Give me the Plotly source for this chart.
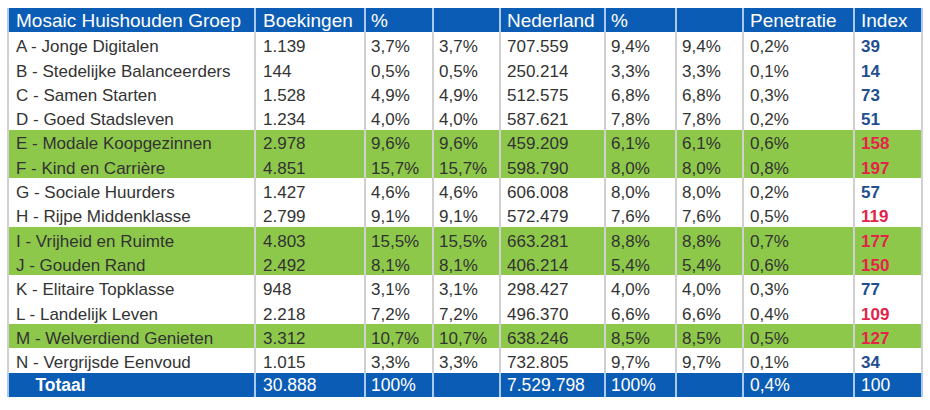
import plotly.graph_objects as go

W, H = 930, 410

# ---- data ----
groepen = [
    "A - Jonge Digitalen", "B - Stedelijke Balanceerders", "C - Samen Starten",
    "D - Goed Stadsleven", "E - Modale Koopgezinnen", "F - Kind en Carrière",
    "G - Sociale Huurders", "H - Rijpe Middenklasse", "I - Vrijheid en Ruimte",
    "J - Gouden Rand", "K - Elitaire Topklasse", "L - Landelijk Leven",
    "M - Welverdiend Genieten", "N - Vergrijsde Eenvoud",
]
boekingen = [1139, 144, 1528, 1234, 2978, 4851, 1427, 2799, 4803, 2492, 948, 2218, 3312, 1015]
boek_pct = [3.7, 0.5, 4.9, 4.0, 9.6, 15.7, 4.6, 9.1, 15.5, 8.1, 3.1, 7.2, 10.7, 3.3]
nederland = [707559, 250214, 512575, 587621, 459209, 598790, 606008, 572479, 663281,
             406214, 298427, 496370, 638246, 732805]
ned_pct = [9.4, 3.3, 6.8, 7.8, 6.1, 8.0, 8.0, 7.6, 8.8, 5.4, 4.0, 6.6, 8.5, 9.7]
penetratie = [0.2, 0.1, 0.3, 0.2, 0.6, 0.8, 0.2, 0.5, 0.7, 0.6, 0.3, 0.4, 0.5, 0.1]
index = [39, 14, 73, 51, 158, 197, 57, 119, 177, 150, 77, 109, 127, 34]
highlight = ["E", "F", "I", "J", "M"]

totaal_label = "Totaal"
totaal_boekingen = 30888
totaal_pct = "100%"
totaal_nederland = 7529798
totaal_ned_pct = "100%"
totaal_penetratie = 0.4
totaal_index = 100

headers = ["Mosaic Huishouden Groep", "Boekingen", "%", "", "Nederland", "%", "",
           "Penetratie", "Index"]


# ---- formatting helpers ----
def nl_int(v):
    return f"{v:,}".replace(",", ".")


def nl_pct(v):
    return f"{v:.1f}%".replace(".", ",")


# ---- styles ----
BLUE = "#0b5cb5"
GREEN = "#8dc84b"
WHITE = "#ffffff"
TXT = "#333333"
IDX_BLUE = "#1f4f91"
IDX_RED = "#e5234a"
SEP = "#d0d0d0"
SEP_BLUE = "#a9c9ee"
FONT = "Liberation Sans, Arial, sans-serif"

n = len(groepen)
nbsp = "\u00a0"
cols = [
    groepen + [nbsp * 4 + "<b>" + totaal_label + "</b>"],
    [nl_int(v) for v in boekingen] + [nl_int(totaal_boekingen)],
    [nl_pct(v) for v in boek_pct] + [totaal_pct],
    [nl_pct(v) for v in boek_pct] + [""],
    [nl_int(v) for v in nederland] + [nl_int(totaal_nederland)],
    [nl_pct(v) for v in ned_pct] + [totaal_ned_pct],
    [nl_pct(v) for v in ned_pct] + [""],
    [nl_pct(v) for v in penetratie] + [nl_pct(totaal_penetratie)],
    [f"<b>{v}</b>" for v in index] + [str(totaal_index)],
]

# layout geometry (pixels)
colw = [247, 110, 68, 67, 105, 71, 67, 111, 68]
pads = [8, 8, 6, 6, 7, 6, 6, 7, 7]
x0, top, bottom = 8, 8, 397
nrows = n + 2
rh = (bottom - top) / nrows
rows = list(range(nrows))  # 0 = header, 1..n = data, n+1 = total
# small vertical text nudges in pixels (styling)
nudges = [2.0] + [3.5] * n + [1.5]

bounds = [x0]
for w in colw:
    bounds.append(bounds[-1] + w)

row_fill = [BLUE] + [GREEN if g[0] in highlight else WHITE for g in groepen] + [BLUE]
row_txt = [WHITE] + [TXT] * n + [WHITE]
idx_col = [WHITE] + [IDX_RED if v > 100 else IDX_BLUE for v in index] + [WHITE]
sizes = [19] + [17] * n + [17.5]

fig = go.Figure()

# row backgrounds
fig.add_trace(go.Bar(
    orientation="h", y=rows, x=[bounds[-1] - x0] * nrows, base=x0, width=1,
    marker=dict(color=row_fill, line=dict(width=0)), hoverinfo="skip", showlegend=False,
))

# cell texts
for c, vals in enumerate(cols):
    fig.add_trace(go.Scatter(
        x=[bounds[c] + pads[c]] * nrows,
        y=[r + nudges[r] / rh for r in rows],
        text=[headers[c]] + vals,
        mode="text",
        textposition="middle right",
        textfont=dict(family=FONT, size=sizes,
                      color=idx_col if c == len(cols) - 1 else row_txt),
        hoverinfo="skip", showlegend=False,
    ))

# vertical separators (styling)
shapes = []
for bx in bounds:
    shapes.append(dict(type="line", xref="x", yref="y", x0=bx, x1=bx,
                       y0=-0.5, y1=0.5, line=dict(color=SEP_BLUE, width=2), layer="above"))
    shapes.append(dict(type="line", xref="x", yref="y", x0=bx, x1=bx,
                       y0=0.5, y1=n + 0.5, line=dict(color=SEP, width=2), layer="above"))
    shapes.append(dict(type="line", xref="x", yref="y", x0=bx, x1=bx,
                       y0=n + 0.5, y1=n + 1.5, line=dict(color=SEP_BLUE, width=2), layer="above"))

ytop = -top / rh - 0.5
ybot = (H - top) / rh - 0.5

fig.update_layout(
    width=W, height=H,
    margin=dict(l=0, r=0, t=0, b=0),
    paper_bgcolor=WHITE, plot_bgcolor=WHITE,
    bargap=0,
    shapes=shapes,
    xaxis=dict(range=[0, W], visible=False, fixedrange=True),
    yaxis=dict(range=[ybot, ytop], visible=False, fixedrange=True),
)

fig.write_html(
    "out.html",
    config={"displayModeBar": False},
    post_script="document.body.style.margin='0';document.body.style.overflow='hidden';",
)
